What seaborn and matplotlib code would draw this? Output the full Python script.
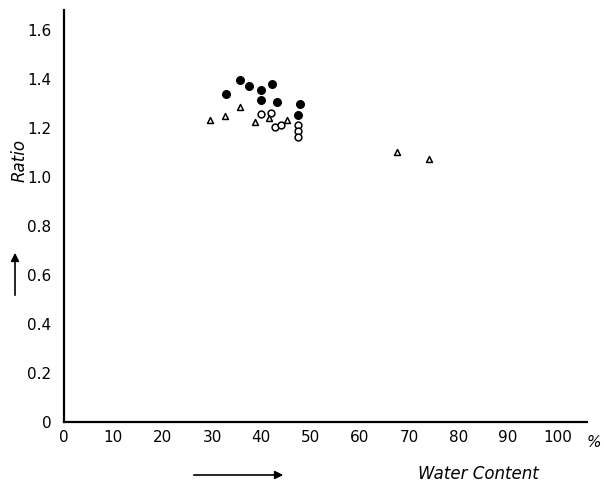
import matplotlib
matplotlib.use("Agg")
import matplotlib.pyplot as plt
import seaborn as sns
import pandas as pd

# Data
filled_x = [35.7, 32.9, 37.5, 40.0, 42.1, 39.9, 43.1, 47.9, 47.5]
filled_y = [1.393, 1.339, 1.369, 1.355, 1.378, 1.314, 1.303, 1.298, 1.250]

open_x = [39.9, 41.9, 42.7, 44.0, 47.5, 47.5, 47.5]
open_y = [1.256, 1.262, 1.201, 1.211, 1.212, 1.188, 1.163]

tri_x = [29.5, 32.6, 35.7, 38.7, 41.6, 45.2, 67.5, 73.9]
tri_y = [1.233, 1.246, 1.283, 1.224, 1.240, 1.231, 1.099, 1.072]

x_ticks = [0, 10, 20, 30, 40, 50, 60, 70, 80, 90, 100]
y_ticks = [0, 0.2, 0.4, 0.6, 0.8, 1.0, 1.2, 1.4, 1.6]
y_tick_labels = ["0", "0.2", "0.4", "0.6", "0.8", "1.0", "1.2", "1.4", "1.6"]

sns.set_style("white")
plt.rcParams['font.family'] = ['DejaVu Sans']
plt.rcParams['text.color'] = 'black'
plt.rcParams['axes.labelcolor'] = 'black'

fig = plt.figure(figsize=(6.04, 4.90), dpi=100)
ax = fig.add_axes([64 / 604, 1 - 422 / 490, (587 - 64) / 604, (422 - 10) / 490])

df_f = pd.DataFrame({"x": filled_x, "y": filled_y})
df_o = pd.DataFrame({"x": open_x, "y": open_y})
df_t = pd.DataFrame({"x": tri_x, "y": tri_y})

sns.scatterplot(data=df_f, x="x", y="y", ax=ax, marker="o", s=32,
                facecolor="black", edgecolor="black", linewidth=0.8)
sns.scatterplot(data=df_o, x="x", y="y", ax=ax, marker="o", s=24,
                facecolor="white", edgecolor="black", linewidth=1.1)
sns.scatterplot(data=df_t, x="x", y="y", ax=ax, marker="^", s=18,
                facecolor="white", edgecolor="black", linewidth=1.1)

ax.set_xlim(0, 106)
ax.set_ylim(0, 1.68)
ax.set_xticks(x_ticks)
ax.set_xticklabels([str(t) for t in x_ticks], fontsize=11)
ax.set_yticks(y_ticks)
ax.set_yticklabels(y_tick_labels, fontsize=11)
ax.set_xlabel("")
ax.set_ylabel("")

for s in ["top", "right"]:
    ax.spines[s].set_visible(False)
for s in ["left", "bottom"]:
    ax.spines[s].set_color("black")
    ax.spines[s].set_linewidth(1.6)

ax.tick_params(axis="x", direction="in", length=4, width=1, colors="black", pad=6)
ax.tick_params(axis="y", direction="out", length=3, width=1, colors="black", pad=6)

# Percent sign
fig.text(594 / 604, 1 - 442 / 490, "%", fontsize=11, ha="center", va="center",
         style="italic", color="black")

# Axis titles
fig.text(20 / 604, 1 - 160 / 490, "Ratio", fontsize=12, style="italic",
         rotation=90, ha="center", va="center", color="black")
fig.text(478 / 604, 1 - 474 / 490, "Water Content", fontsize=12, style="italic",
         ha="center", va="center", color="black")

# Arrows
fig.patches.append(matplotlib.patches.FancyArrowPatch(
    (15 / 604, 1 - 298 / 490), (15 / 604, 1 - 250 / 490),
    transform=fig.transFigure, arrowstyle="-|>", mutation_scale=12,
    color="black", linewidth=1.2))
fig.patches.append(matplotlib.patches.FancyArrowPatch(
    (191 / 604, 1 - 475 / 490), (286 / 604, 1 - 475 / 490),
    transform=fig.transFigure, arrowstyle="-|>", mutation_scale=12,
    color="black", linewidth=1.2))

fig.savefig("out.png", dpi=100, facecolor="white")
